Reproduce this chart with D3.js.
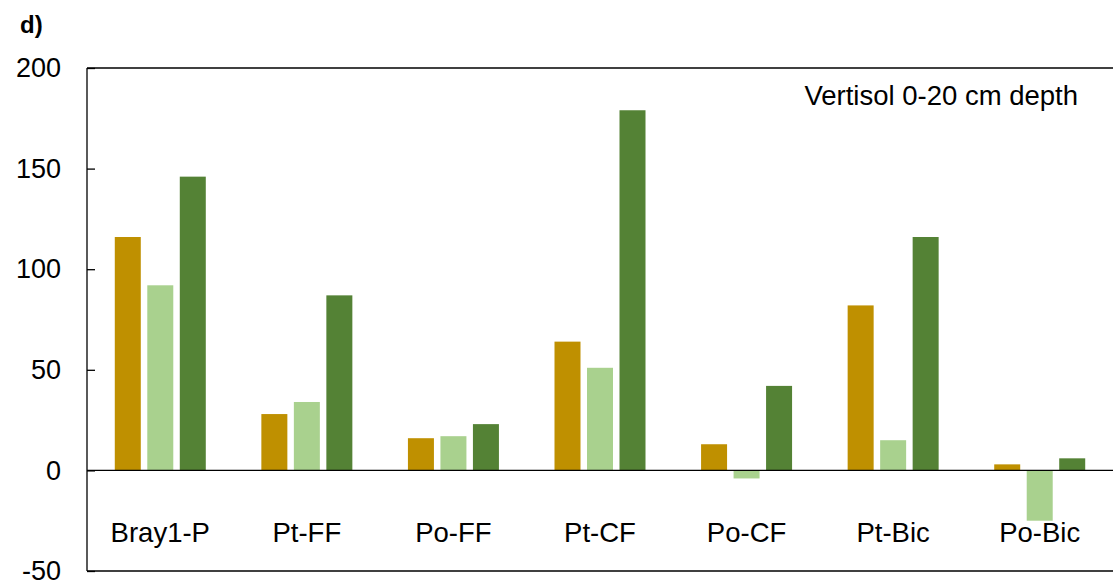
<!DOCTYPE html>
<html lang="en">
<head>
<meta charset="UTF-8">
<script src="https://d3js.org/d3.v7.min.js"></script>
<style>
  body { margin: 0; background: #fff; }
  text { font-family: "Liberation Sans", Arial, sans-serif; }
</style>
</head>
<body>
<div id="chart"></div>
<script>
    const categories = ["Bray1-P", "Pt-FF", "Po-FF", "Pt-CF", "Po-CF", "Pt-Bic", "Po-Bic"];
    const seriesA = [116, 28, 16, 64, 13, 82, 3];
    const seriesB = [92, 34, 17, 51, -4, 15, -25];
    const seriesC = [146, 87, 23, 179, 42, 116, 6];
    const colors = ["#BF9000", "#A9D18E", "#548235"];
    const yTicks = [-50, 0, 50, 100, 150, 200];

    const width = 1113, height = 582;
    const mLeft = 87, mRight = 1113, mTop = 68, mBottom = 571;

    const svg = d3.select("#chart").append("svg")
        .attr("width", width).attr("height", height);

    const x = d3.scaleBand().domain(categories).range([mLeft, mRight]);
    const y = d3.scaleLinear().domain([-50, 200]).range([mBottom, mTop]);

    // plot frame
    [[mLeft, mLeft, mTop, mBottom], [mLeft, mRight, mTop, mTop], [mLeft, mRight, mBottom, mBottom]]
        .forEach(([x1, x2, y1, y2]) => svg.append("line")
            .attr("x1", x1).attr("x2", x2).attr("y1", y1).attr("y2", y2)
            .attr("stroke", "#000").attr("stroke-width", 1.3));

    // y axis, ticks point inward
    const yAxis = d3.axisLeft(y).tickValues(yTicks).tickSize(-8).tickPadding(26)
        .tickFormat(d => String(d));
    const ga = svg.append("g").attr("transform", `translate(${mLeft},0)`).call(yAxis);
    ga.select(".domain").remove();
    ga.selectAll("line").attr("stroke", "#000").attr("stroke-width", 1.3);
    ga.selectAll("text").style("font-size", "27px").attr("fill", "#000");

    // bars
    const series = [seriesA, seriesB, seriesC];
    const barW = 26, step = 32.5;
    series.forEach((vals, si) => {
        svg.selectAll(".bar" + si).data(vals).enter().append("rect")
            .attr("x", (d, i) => x(categories[i]) + x.bandwidth() / 2 - barW / 2 + (si - 1) * step)
            .attr("y", d => y(Math.max(0, d)))
            .attr("width", barW)
            .attr("height", d => Math.abs(y(d) - y(0)))
            .attr("fill", colors[si]);
    });

    // zero line
    svg.append("line").attr("x1", mLeft).attr("x2", mRight).attr("y1", y(0)).attr("y2", y(0))
        .attr("stroke", "#000").attr("stroke-width", 1.3);

    // category labels
    svg.selectAll(".cat").data(categories).enter().append("text")
        .attr("x", d => x(d) + x.bandwidth() / 2)
        .attr("y", 542)
        .attr("text-anchor", "middle")
        .style("font-size", "27.5px")
        .text(d => d);

    svg.append("text").attr("x", 1078).attr("y", 105).attr("text-anchor", "end")
        .style("font-size", "27.5px").text("Vertisol 0-20 cm depth");
    svg.append("text").attr("x", 20).attr("y", 33)
        .style("font-size", "24px").style("font-weight", "bold").text("d)");
</script>
</body>
</html>
